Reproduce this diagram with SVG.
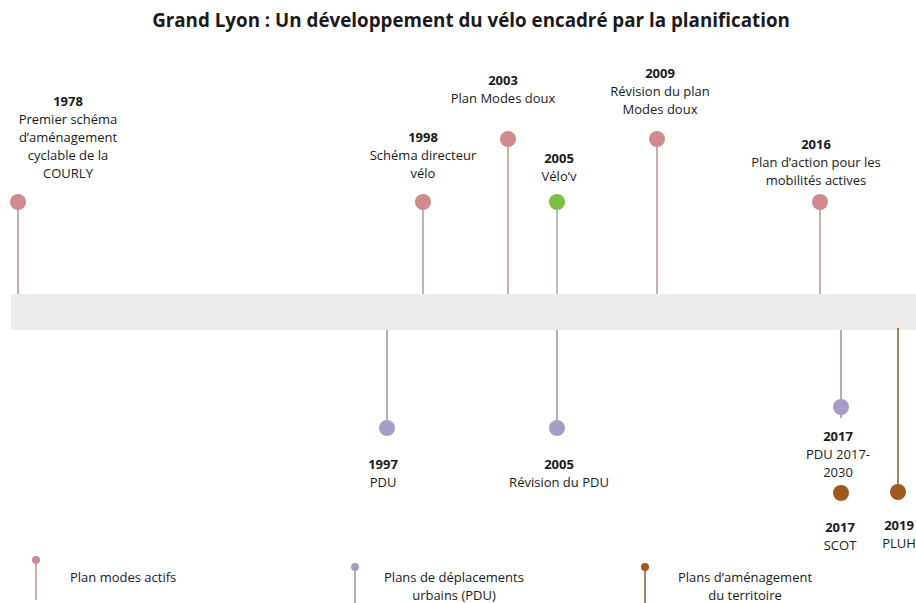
<svg xmlns="http://www.w3.org/2000/svg" width="916" height="603" viewBox="0 0 916 603">
<style>
text{font-family:"Open Sans","Liberation Sans",sans-serif;fill:#1a1a1a;text-anchor:middle;font-size:13px}
.y{font-weight:bold}
.t{font-size:18.8px;font-weight:bold}
.l{text-anchor:start}
.pk{fill:#d08a8d}
.pu{fill:#a79cc5}
.br{fill:#a0581c}
.gr{fill:#7cc043}
.lp{stroke:#c9aeb0;stroke-width:2}
.lu{stroke:#b2adbb;stroke-width:2}
.lb{stroke:#8a5a30;stroke-width:1.5}
.lg{stroke:#b8c4ad;stroke-width:2}
</style>
<rect width="916" height="603" fill="#fff"/>
<text class="t" x="471" y="27">Grand Lyon : Un développement du vélo encadré par la planification</text>
<rect id="band" x="11" y="294" width="905" height="36" fill="#ececec"/>
<g id="connectors">
<line class="lp" x1="18" y1="202" x2="18" y2="294"/>
<line class="lp" x1="423" y1="202" x2="423" y2="294"/>
<line class="lp" x1="508" y1="139" x2="508" y2="294"/>
<line class="lg" x1="557" y1="202" x2="557" y2="294"/>
<line class="lp" x1="657" y1="139" x2="657" y2="294"/>
<line class="lp" x1="820" y1="202" x2="820" y2="294"/>
<line class="lu" x1="387" y1="330" x2="387" y2="428"/>
<line class="lu" x1="557" y1="330" x2="557" y2="428"/>
<line class="lu" x1="841" y1="330" x2="841" y2="418"/>
<line class="lb" x1="898" y1="328" x2="898" y2="492"/>
</g>
<g id="n1978"><circle class="pk" cx="18" cy="202" r="8"/><text class="y" x="68" y="106">1978</text><text x="68" y="124">Premier schéma</text><text x="68" y="142">d’aménagement</text><text x="68" y="160">cyclable de la</text><text x="68" y="178">COURLY</text></g>
<g id="n1998"><circle class="pk" cx="423" cy="202" r="8"/><text class="y" x="423" y="142">1998</text><text x="423" y="160">Schéma directeur</text><text x="423" y="178">vélo</text></g>
<g id="n2003"><circle class="pk" cx="508" cy="139" r="8"/><text class="y" x="503" y="85">2003</text><text x="503" y="103">Plan Modes doux</text></g>
<g id="n2005v"><circle class="gr" cx="557" cy="202" r="8"/><text class="y" x="559" y="163">2005</text><text x="559" y="181">Vélo’v</text></g>
<g id="n2009"><circle class="pk" cx="657" cy="139" r="8"/><text class="y" x="660" y="78">2009</text><text x="660" y="96">Révision du plan</text><text x="660" y="114">Modes doux</text></g>
<g id="n2016"><circle class="pk" cx="820" cy="202" r="8"/><text class="y" x="816" y="149">2016</text><text x="816" y="167">Plan d’action pour les</text><text x="816" y="185">mobilités actives</text></g>
<g id="n1997"><circle class="pu" cx="387" cy="428" r="8"/><text class="y" x="383" y="469">1997</text><text x="383" y="487">PDU</text></g>
<g id="n2005p"><circle class="pu" cx="557" cy="428" r="8"/><text class="y" x="559" y="469">2005</text><text x="559" y="487">Révision du PDU</text></g>
<g id="n2017p"><circle class="pu" cx="841" cy="407" r="8"/><text class="y" x="838" y="441">2017</text><text x="838" y="459">PDU 2017-</text><text x="838" y="477">2030</text></g>
<g id="n2017s"><circle class="br" cx="841" cy="493" r="8"/><text class="y" x="840" y="532">2017</text><text x="840" y="550">SCOT</text></g>
<g id="n2019"><circle class="br" cx="898" cy="492" r="8"/><text class="y" x="899" y="530">2019</text><text x="899" y="548">PLUH</text></g>
<g id="legend">
<line class="lp" x1="36" y1="560" x2="36" y2="600"/><circle class="pk" cx="36" cy="560" r="4"/>
<text class="l" x="70" y="582">Plan modes actifs</text>
<line class="lu" x1="355" y1="567" x2="355" y2="603"/><circle class="pu" cx="355" cy="567" r="4"/>
<text x="454" y="582">Plans de déplacements</text><text x="454" y="600">urbains (PDU)</text>
<line class="lb" x1="645" y1="567" x2="645" y2="603"/><circle class="br" cx="645" cy="567" r="4"/>
<text x="745" y="582">Plans d’aménagement</text><text x="745" y="600">du territoire</text>
</g>
</svg>
